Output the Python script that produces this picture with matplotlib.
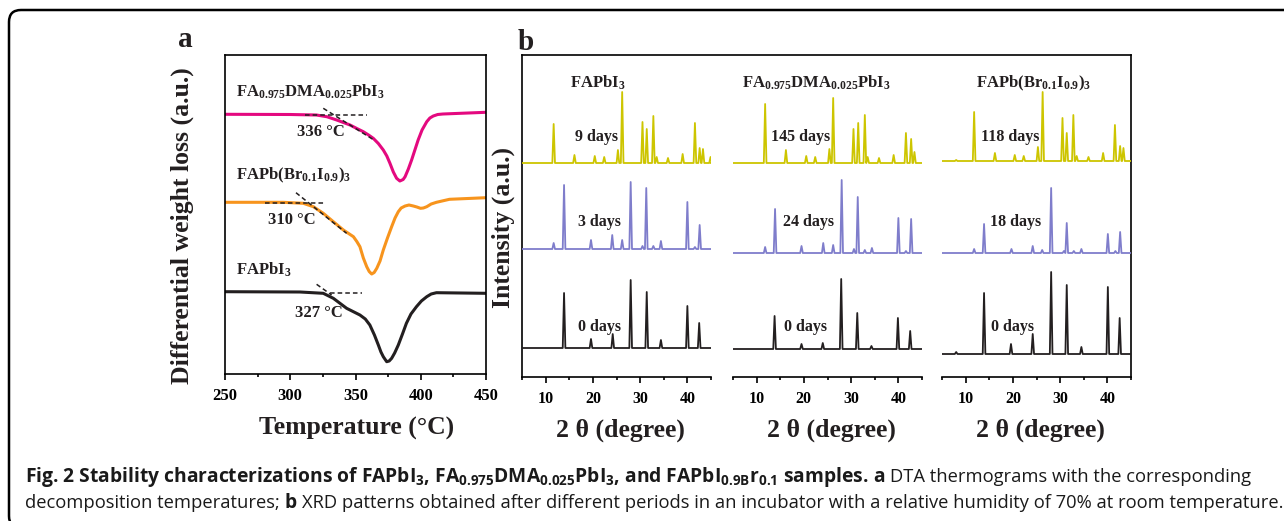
import numpy as np
import matplotlib
matplotlib.use("Agg")
import matplotlib.pyplot as plt
from matplotlib.patches import FancyBboxPatch
from matplotlib.transforms import IdentityTransform
from matplotlib.ticker import MultipleLocator

W, H = 1284, 521
SERIF = "Liberation Serif"
SANS = "Open Sans"
INK = "#231f20"

# ---------------- panel a: DTA curves (temperature in C, signal in a.u.)
dma_T = [250, 300, 320, 328, 335.6, 345.8, 351, 356, 360, 363.6, 367.5, 371.3, 374, 376.4,
         379, 381.5, 384, 386.5, 388, 390.5, 393, 395.5, 398, 401, 404.6, 407, 409.6, 413, 417, 450]
dma_S = [259.7, 259.5, 259, 257.3, 254, 249, 245.5, 242.3, 239, 235.7, 230.5, 224, 218, 210.7,
         202, 195.7, 193, 194.5, 197.3, 205, 214, 224, 234, 244, 252.3, 256, 258, 259.5, 260, 261.7]

br_T = [250, 294.7, 310, 317.7, 325.3, 333, 340.7, 348.4, 351, 353.4, 356, 358.6, 360.5, 362.4,
        364.3, 366.3, 368.8, 371.3, 374.5, 377.7, 380.3, 382.8, 385, 388, 391, 394.3, 397,
        399.8, 402, 404.6, 408, 412, 422, 450]
br_S = [171.7, 171.7, 170.7, 167.3, 160.7, 152.3, 144, 137.3, 132.5, 127.3, 116, 107.3, 102.5, 100,
        101.5, 105.7, 113, 124, 136, 147.3, 156, 162.3, 166, 168, 169, 168, 167,
        165.7, 166, 167.3, 170, 171.7, 174.7, 176.3]

fa_T = [250, 307.5, 325.3, 333, 343.2, 353.4, 357.5, 361, 364.5, 367.5, 369.5, 371.3, 373.9,
        375.8, 377.7, 380, 382.8, 386, 389, 392.5, 396.7, 400.5, 404.6, 408, 412, 450]
fa_S = [82.3, 82, 80.7, 75.7, 65.7, 59, 55, 49, 39, 29, 22, 17.3, 12.3,
        13, 15.7, 21, 29, 40, 50.7, 60, 67.3, 73, 77.3, 80, 81.3, 80.7]

# onset tangents: (T1, S1, T2, S2)
dma_flat = (311, 259, 358.6, 259)
dma_slope = (325.3, 265.7, 365, 233.3)
br_flat = (280.6, 171.3, 327.4, 171.3)
br_slope = (304.4, 181.3, 343.2, 140.7)
fa_flat = (330.5, 81.3, 354.7, 81.3)
fa_slope = (320.2, 89.7, 331.7, 79)

# ---------------- panel b: XRD peaks (2theta, intensity above baseline)
# FAPbI3
p1_9d_pos = [11.7, 16.1, 20.4, 22.4, 25.3, 26.2, 30.5, 31.4, 32.8, 33.5, 35.9, 39.0, 41.6, 42.6, 43.3, 44.9]
p1_9d_int = [39, 8, 7, 6, 13, 71, 41, 34, 47, 6, 5, 9, 40, 15, 14, 6]
p1_3d_pos = [11.7, 13.9, 19.6, 24.1, 26.2, 28.0, 30.5, 31.3, 32.8, 34.4, 40.0, 41.6, 42.6]
p1_3d_int = [6, 64, 9, 14, 9, 67, 3, 61, 3, 8, 47, 2, 24]
p1_0d_pos = [13.9, 19.6, 24.2, 28.0, 31.4, 34.4, 40.0, 42.5]
p1_0d_int = [55, 9, 14, 68, 56, 8, 42, 25]
p1_base = [214, 128, 29]

# FA0.975DMA0.025PbI3
p2_145d_pos = [11.8, 16.2, 20.5, 22.4, 25.4, 26.2, 30.5, 31.5, 32.9, 33.5, 35.9, 39.0, 41.6, 42.7, 43.4]
p2_145d_int = [59, 13, 7, 6, 14, 65, 34, 40, 48, 6, 5, 8, 30, 24, 11]
p2_24d_pos = [11.8, 13.9, 19.5, 24.1, 26.2, 28.0, 30.6, 31.4, 32.9, 34.4, 40.0, 41.6, 42.7]
p2_24d_int = [6, 44, 7, 10, 8, 73, 4, 56, 3, 5, 35, 2, 34]
p2_0d_pos = [13.8, 19.5, 24.0, 27.9, 31.3, 34.3, 39.9, 42.5]
p2_0d_int = [33, 5, 6, 70, 36, 3, 31, 18]
p2_base = [214, 124, 28]

# FAPb(Br0.1I0.9)3
p3_118d_pos = [8.0, 11.8, 16.2, 20.4, 22.3, 25.3, 26.3, 30.5, 31.4, 32.8, 33.5, 36.0, 39.1, 41.6, 42.7, 43.4]
p3_118d_int = [1, 49, 8, 6, 5, 14, 69, 43, 28, 46, 5, 4, 8, 36, 15, 13]
p3_18d_pos = [11.8, 13.9, 19.7, 24.2, 26.2, 28.1, 30.8, 31.4, 32.9, 34.5, 40.1, 41.7, 42.7]
p3_18d_int = [4, 29, 4, 7, 3, 65, 2, 30, 2, 4, 19, 2, 21]
p3_0d_pos = [8.0, 13.9, 19.6, 24.2, 28.1, 31.4, 34.5, 40.1, 42.6]
p3_0d_int = [2, 61, 10, 20, 82, 69, 7, 67, 36]
p3_base = [216, 124, 23]

xrd_titles = [r"$\mathregular{FAPbI_3}$",
              r"$\mathregular{FA_{0.975}DMA_{0.025}PbI_3}$",
              r"$\mathregular{FAPb(Br_{0.1}I_{0.9})_3}$"]
title_x = [21.0, 22.7, 24.4]
day_labels = [["9 days", "3 days", "0 days"],
              ["145 days", "24 days", "0 days"],
              ["118 days", "18 days", "0 days"]]
day_x = [[20.7, 21.3, 21.3], [19.4, 21.0, 20.3], [19.5, 20.5, 19.9]]
day_y = [240, 155, 50]

yellow = "#cdc500"
purple = "#7f7dcb"
xrd_colors = [yellow, purple, INK]


def peak_line(pos, hgt, base, w=0.28):
    xs = [5.0]
    ys = [base]
    for p, h in sorted(zip(pos, hgt)):
        xs += [p - w, p, p + w]
        ys += [base, base + h, base]
    xs.append(45.0)
    ys.append(base)
    return xs, ys


def rect(l, t, r, b):
    return [l / W, 1 - b / H, (r - l) / W, (b - t) / H]


fig = plt.figure(figsize=(W / 100, H / 100), dpi=100)

# outer rounded frame
frame = FancyBboxPatch((9, -7), 1320, 518, boxstyle="round,pad=0,rounding_size=12",
                       transform=IdentityTransform(), fill=False, lw=1.8, ec="black")
fig.patches.append(frame)

# ---------- panel a
ax = fig.add_axes(rect(225, 55, 486, 374))
ax.plot(dma_T, dma_S, color="#e4097f", lw=2.2)
ax.plot(br_T, br_S, color="#f7941d", lw=2.2)
ax.plot(fa_T, fa_S, color=INK, lw=2.2)
for seg in [dma_flat, dma_slope, br_flat, br_slope, fa_flat, fa_slope]:
    ax.plot([seg[0], seg[2]], [seg[1], seg[3]], color=INK, lw=1.1, dashes=(3, 2))
ax.set_xlim(250, 450)
ax.set_ylim(0, 319)
ax.set_yticks([])
ax.xaxis.set_major_locator(MultipleLocator(50))
ax.xaxis.set_minor_locator(MultipleLocator(25))
ax.tick_params(axis="x", which="major", direction="out", length=4, width=1.2, pad=6)
ax.tick_params(axis="x", which="minor", direction="out", length=2.5, width=1.2)
for lab in ax.get_xticklabels():
    lab.set_fontfamily(SERIF)
    lab.set_fontweight("bold")
    lab.set_fontsize(12)
for sp in ax.spines.values():
    sp.set_linewidth(1.2)

lbl = dict(family=SERIF, fontweight="bold", fontsize=12, color=INK, va="center", ha="left")
ax.text(258.4, 282, r"$\mathregular{FA_{0.975}DMA_{0.025}PbI_3}$", **lbl)
ax.text(305.2, 242, "336 °C", **lbl)
ax.text(258.4, 199, r"$\mathregular{FAPb(Br_{0.1}I_{0.9})_3}$", **lbl)
ax.text(283.0, 154, "310 °C", **lbl)
ax.text(258.4, 104, r"$\mathregular{FAPbI_3}$", **lbl)
ax.text(303.6, 61, "327 °C", **lbl)

big = dict(family=SERIF, fontweight="bold", fontsize=18.5, color=INK, ha="center", va="center")
fig.text(182 / W, 1 - 226 / H, "Differential weight loss (a.u.)", rotation=90, **big)
fig.text(357 / W, 1 - 428 / H, "Temperature (°C)", **big)
fig.text(178 / W, 1 - 47 / H, "a", family=SERIF, fontweight="bold", fontsize=21,
         color=INK, ha="left", va="baseline")
fig.text(518 / W, 1 - 50 / H, "b", family=SERIF, fontweight="bold", fontsize=21,
         color=INK, ha="left", va="baseline")

# ---------- panel b
box = fig.add_axes(rect(522, 55, 1131, 377))
box.set_facecolor("none")
box.set_xticks([])
box.set_yticks([])
box.spines["bottom"].set_visible(False)
for k in ["left", "top", "right"]:
    box.spines[k].set_linewidth(1.2)

fig.text(503 / W, 1 - 227 / H, "Intensity (a.u.)", rotation=90, **big)

sub_lr = [(522, 711), (733, 922), (942, 1131)]
panels = [
    [(p1_9d_pos, p1_9d_int), (p1_3d_pos, p1_3d_int), (p1_0d_pos, p1_0d_int), p1_base],
    [(p2_145d_pos, p2_145d_int), (p2_24d_pos, p2_24d_int), (p2_0d_pos, p2_0d_int), p2_base],
    [(p3_118d_pos, p3_118d_int), (p3_18d_pos, p3_18d_int), (p3_0d_pos, p3_0d_int), p3_base],
]
for i, (l, r) in enumerate(sub_lr):
    sa = fig.add_axes(rect(l, 55, r, 377))
    sa.set_facecolor("none")
    data = panels[i]
    base = data[3]
    for j in range(3):
        xs, ys = peak_line(data[j][0], data[j][1], base[j])
        sa.plot(xs, ys, color=xrd_colors[j], lw=1.3)
        sa.text(day_x[i][j], day_y[j], day_labels[i][j], family=SERIF, fontweight="bold",
                fontsize=11.5, color=INK, ha="center", va="center")
    sa.text(title_x[i], 294, xrd_titles[i], family=SERIF, fontweight="bold",
            fontsize=12, color=INK, ha="center", va="center")
    sa.set_xlim(5, 45)
    sa.set_ylim(0, 322)
    sa.set_yticks([])
    for k in ["left", "top", "right"]:
        sa.spines[k].set_visible(False)
    sa.spines["bottom"].set_linewidth(1.2)
    sa.xaxis.set_major_locator(MultipleLocator(10))
    sa.xaxis.set_minor_locator(MultipleLocator(5))
    sa.tick_params(axis="x", which="major", direction="out", length=4, width=1.2, pad=6)
    sa.tick_params(axis="x", which="minor", direction="out", length=2.5, width=1.2)
    for lab in sa.get_xticklabels():
        lab.set_fontfamily(SERIF)
        lab.set_fontweight("bold")
        lab.set_fontsize(11.5)
    fig.text((l + r) / 2 / W + 4 / W, 1 - 430 / H, "2 θ (degree)", **big)

# ---------- caption
renderer = fig.canvas.get_renderer()
CAP_SIZE = {"bold": 13.9, "normal": 13.2}


def chain(parts, x0, y0):
    x = x0
    for s, wgt in parts:
        size = CAP_SIZE[wgt]
        t = fig.text(x / W, 1 - y0 / H, s, family=SANS, fontweight=wgt, fontsize=size,
                     color="#1a1a1a", ha="left", va="baseline")
        x = t.get_window_extent(renderer).x1 + size * 0.26 * 100 / 72


line1 = [
    (r"Fig. 2 Stability characterizations of $\mathregular{FAPbI_3}$, "
     r"$\mathregular{FA_{0.975}DMA_{0.025}PbI_3}$, and $\mathregular{FAPbI_{0.9B}r_{0.1}}$ samples.", "bold"),
    ("a", "bold"),
    ("DTA thermograms with the corresponding", "normal"),
]
line2 = [
    ("decomposition temperatures;", "normal"),
    ("b", "bold"),
    ("XRD patterns obtained after different periods in an incubator with a relative "
     "humidity of 70% at room temperature.", "normal"),
]
chain(line1, 25, 482)
chain(line2, 25, 508)

fig.savefig("out.png", dpi=100)
